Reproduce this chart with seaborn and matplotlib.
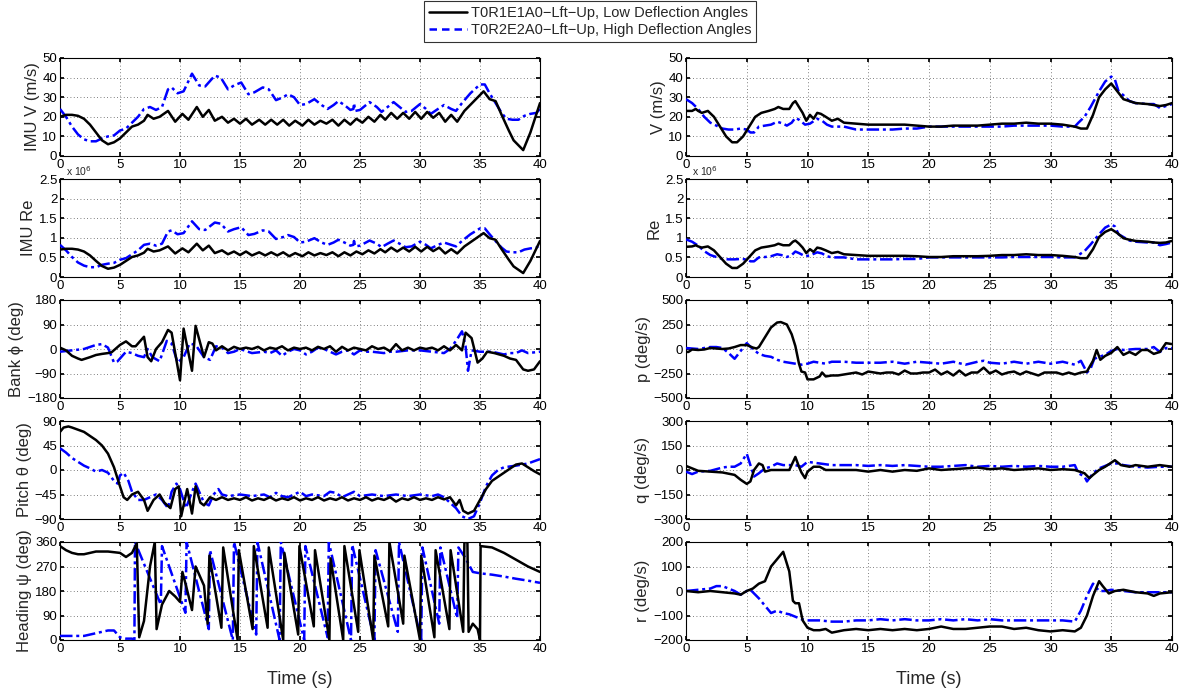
import numpy as np
import matplotlib
matplotlib.use("Agg")
import matplotlib.pyplot as plt
import seaborn as sns
from matplotlib.lines import Line2D
from matplotlib.ticker import FuncFormatter

sns.set_theme(style="white")
plt.rcParams['font.family'] = ['Liberation Sans', 'DejaVu Sans']

# ---------------- data ----------------
legend_labels = ["T0R1E1A0\u2212Lft\u2212Up, Low Deflection Angles",
                 "T0R2E2A0\u2212Lft\u2212Up, High Deflection Angles"]

# IMU V (m/s) and IMU Re
imuv_t_k = [0, 0.5, 1, 1.5, 2, 2.5, 3, 3.5, 4, 4.5, 5, 5.5, 6, 6.5, 7, 7.3, 7.8, 8.3, 9, 9.6, 10.2, 10.7, 11.4, 11.9,
            12.4, 12.9, 13.5, 14, 14.5, 15, 15.5, 16, 16.6, 17.1, 17.6, 18.1, 18.6, 19.1, 19.6, 20.2, 20.7, 21.2, 21.7,
            22.2, 22.7, 23.2, 23.7, 24.2, 24.7, 25.2, 25.7, 26.2, 26.7, 27.1, 27.6, 28.1, 28.6, 29.1, 29.6, 30.1, 30.6,
            31.1, 31.6, 32.1, 32.6, 33.1, 33.7, 34.5, 35.3, 35.8, 36.3, 36.8, 37.4, 37.8, 38.6, 39.2, 40]
imuv_k = [20, 21, 21, 20.5, 19, 16, 12, 8, 6, 7, 9, 12, 15, 16, 18, 21, 19, 20, 23, 17.5, 21.5, 18.5, 25, 20,
          23.5, 18, 20, 17, 19, 16.5, 19, 16, 18.5, 16, 18.5, 16, 18.5, 15.5, 18, 15.5, 18.5, 16, 18,
          16.5, 18.5, 15.5, 18.5, 16, 19, 17, 20, 17.5, 21, 18.5, 22, 19, 22, 19, 22.5, 19, 22.5,
          19.5, 22, 17.5, 21, 17.5, 23, 28, 33, 29, 28, 21, 13, 8, 3, 12, 27]
imure_k = [0.70, 0.72, 0.72, 0.70, 0.65, 0.55, 0.41, 0.28, 0.21, 0.24, 0.31, 0.41, 0.51, 0.55, 0.62, 0.72, 0.65,
           0.68, 0.78, 0.60, 0.73, 0.63, 0.85, 0.68, 0.80, 0.61, 0.68, 0.58, 0.65, 0.56, 0.65, 0.55, 0.63, 0.55,
           0.63, 0.55, 0.63, 0.53, 0.61, 0.53, 0.63, 0.55, 0.61, 0.56, 0.63, 0.53, 0.63, 0.55, 0.65, 0.58, 0.68,
           0.60, 0.71, 0.63, 0.75, 0.65, 0.75, 0.65, 0.77, 0.65, 0.77, 0.66, 0.75, 0.60, 0.71, 0.60, 0.78, 0.95,
           1.12, 0.99, 0.95, 0.71, 0.44, 0.27, 0.10, 0.41, 0.92]

imuv_t_b = [0, 0.5, 1, 1.5, 2, 2.5, 3, 3.5, 4, 4.5, 5, 5.5, 6, 6.5, 7, 7.5, 8, 8.5, 9, 9.3, 9.8, 10.3, 11, 11.6,
            12.1, 12.9, 13.4, 14, 14.5, 15.1, 15.7, 16.2, 16.9, 17.4, 18, 18.6, 19, 19.5, 20, 20.5, 21.2, 21.8,
            22.3, 22.8, 23.2, 23.7, 24.2, 24.45, 24.5, 24.6, 25, 25.8, 26.4, 26.8, 27.3, 27.8, 28.3, 28.8, 29.3,
            30, 30.5, 30.9, 31.5, 32, 32.6, 33, 33.5, 34.2, 35, 35.4, 35.8, 36.4, 36.8, 37.2, 37.7, 38.2, 38.7,
            39.2, 39.7, 40]
imuv_b = [24, 20, 15, 11, 8.5, 7.5, 7.5, 9, 10, 10.5, 13, 14, 17, 20, 24, 25, 23.5, 25, 34, 35, 32, 33, 42, 36,
          35.5, 41, 40, 34, 36, 37.5, 31.5, 32.5, 35, 34, 28.5, 30, 31.5, 30, 26, 26.5, 29, 26,
          24, 26, 28, 26, 23.5, 24, 27, 23, 23.5, 27.5, 25, 22.5, 25, 27.5, 25, 22.5, 23,
          26.5, 24, 21.5, 24, 26, 24, 23, 27, 32, 36.5, 36.5, 32, 26, 22, 19, 18.5, 18.5, 20.5,
          21.5, 22, 24]
imure_b = [0.82, 0.68, 0.51, 0.37, 0.29, 0.25, 0.25, 0.31, 0.34, 0.36, 0.44, 0.48, 0.58, 0.68, 0.82, 0.85, 0.80,
           0.85, 1.16, 1.19, 1.09, 1.12, 1.42, 1.22, 1.20, 1.39, 1.36, 1.16, 1.22, 1.27, 1.07, 1.10, 1.19, 1.16,
           0.97, 1.02, 1.07, 1.02, 0.88, 0.90, 0.99, 0.88, 0.82, 0.88, 0.95, 0.88, 0.80, 0.82, 0.92, 0.78, 0.80,
           0.93, 0.85, 0.76, 0.85, 0.93, 0.85, 0.76, 0.78, 0.90, 0.82, 0.73, 0.82, 0.88, 0.82, 0.78, 0.92, 1.09,
           1.24, 1.24, 1.09, 0.88, 0.75, 0.65, 0.63, 0.63, 0.70, 0.73, 0.75, 0.82]

# Bank phi (deg)
bank_t_k = [0, 0.5, 1, 1.5, 1.8, 2.5, 3, 3.5, 4, 4.3, 5, 5.5, 6, 6.3, 7, 7.3, 7.6, 8, 8.5, 9, 9.3, 10, 10.3, 11,
            11.3, 12, 12.4, 12.7, 13, 13.5, 14, 14.5, 15, 15.5, 16, 16.5, 17, 17.5, 18, 18.5, 19, 19.5, 20, 20.5,
            21, 21.5, 22, 22.5, 23, 23.5, 24, 24.5, 25, 25.5, 26, 26.5, 27, 27.5, 28, 28.5, 29, 29.5, 30, 30.5,
            31, 31.5, 32, 32.5, 33, 33.5, 33.8, 34.3, 34.8, 35.2, 35.6, 36.2, 37, 37.5, 38, 38.6, 39, 39.5, 40]
bank_k = [5, -5, -25, -35, -40, -30, -22, -18, -15, -12, 15, 28, 10, 10, 45, -30, -45, 0, 25, 70, 60, -115, 75,
          -80, 85, -30, 25, 20, -5, 10, -5, 8, 0, 5, 0, 8, -5, 5, 0, 10, -5, 5, 0, 5,
          -5, 8, 0, 10, -10, 8, -5, 5, 0, -5, 10, 0, 5, -8, 18, -5, 5, -5, 5, 0,
          5, -5, 10, -5, 15, -5, 60, 40, -50, -35, -10, -15, -25, -35, -40, -75, -80, -75, -45]
bank_t_b = [0, 1, 2, 3, 3.5, 4, 4.5, 4.8, 5.5, 6, 6.5, 7, 7.3, 7.7, 8.3, 8.9, 9.3, 9.8, 10.3, 10.8, 11.3, 12,
            12.5, 13, 13.5, 14, 14.5, 15, 16, 17, 17.5, 18, 18.5, 19, 19.5, 20, 20.5, 21, 21.5, 22, 22.5, 23,
            23.5, 24, 24.5, 25, 25.5, 26, 27, 27.5, 28, 29, 30, 31, 32, 32.5, 33, 33.5, 33.8, 34, 34.3, 35, 36,
            37, 37.5, 38, 38.5, 39, 40]
bank_b = [-10, -5, 0, 15, 18, 5, -50, -45, -10, -15, -25, -30, 0, -30, -45, 30, 20, -50, -30, 20, 15, -30,
          -40, 10, 5, -15, -10, 0, -15, -10, -15, -5, -25, -10, 0, -5, -20, -10, 5, 0, -10, -20,
          -10, -5, -20, -5, -10, -10, -15, -10, -10, -5, -5, -10, -15, 0, 30, 65, 10, -80, -5, -10, -10,
          -20, -15, -15, -5, -15, -10]

# Pitch theta (deg)
pitch_t_k = [0, 0.3, 0.7, 1, 2, 3, 3.5, 4, 4.5, 5, 5.3, 5.6, 6, 6.5, 7, 7.3, 7.8, 8.3, 8.7, 9.2, 9.6, 9.9, 10.1,
             10.6, 11, 11.3, 11.7, 12, 12.5, 13, 13.5, 14, 14.5, 15, 15.5, 16, 16.5, 17, 17.5, 18, 18.5, 19, 19.5,
             20, 20.5, 21, 21.5, 22, 22.5, 23, 23.5, 24, 24.5, 25, 25.5, 26, 26.5, 27, 27.5, 28, 28.5, 29, 29.5,
             30, 30.5, 31, 31.5, 32, 32.5, 33, 33.3, 33.6, 34, 34.5, 35, 35.5, 36, 37, 38, 38.5, 39, 39.5, 40]
pitch_k = [70, 78, 80, 78, 70, 55, 45, 30, 5, -30, -50, -55, -45, -40, -55, -75, -55, -45, -60, -70, -35, -30,
           -85, -35, -80, -30, -60, -65, -50, -55, -50, -55, -52, -55, -50, -56, -52, -55, -50, -56, -52, -55,
           -50, -56, -52, -55, -50, -56, -52, -55, -50, -56, -52, -55, -50, -56, -52, -55, -50, -58, -52, -55,
           -50, -55, -52, -55, -50, -54, -50, -65, -55, -75, -80, -75, -55, -35, -20, -5, 10, 12, 5, -2, -8]
pitch_t_b = [0, 0.5, 1, 1.5, 2, 2.5, 3, 3.5, 4, 4.5, 4.8, 5, 5.3, 5.7, 6, 6.5, 7, 7.5, 8, 8.5, 9, 9.3, 9.7, 10,
             10.5, 11, 11.3, 11.7, 12, 12.4, 12.8, 13.2, 13.5, 14, 15, 16, 17, 17.5, 18, 18.5, 19, 19.5, 20,
             20.5, 21, 22, 22.5, 23, 23.5, 24, 24.5, 25, 26, 27, 28, 29, 30, 31, 31.5, 32, 32.5, 33, 33.5, 34,
             34.5, 35, 35.5, 36, 36.5, 37, 38, 39, 40]
pitch_b = [40, 32, 22, 15, 8, 3, -3, 0, -5, -20, -25, -10, -5, -20, -40, -55, -55, -50, -45, -55, -70, -40, -25,
           -35, -70, -40, -25, -45, -60, -65, -45, -35, -45, -48, -45, -48, -45, -50, -42, -48, -50, -45, -40,
           -48, -45, -48, -40, -42, -50, -45, -40, -48, -45, -48, -45, -48, -45, -48, -45, -50, -60, -70, -85,
           -90, -85, -60, -30, -10, 0, 5, 8, 12, 20]

# Heading psi (deg)
head_t_k = [0, 0.5, 1, 1.5, 2, 3, 4, 5, 5.5, 6, 6.4, 6.6, 7, 7.5, 7.9, 8.05, 8.5, 9.1, 9.6, 10, 10.2, 10.5, 11,
            11.3, 12, 12.3, 12.45, 13.45, 13.6, 14.8, 14.9, 16.05, 16.15, 17.3, 17.4, 18.6, 18.7, 19.85, 19.95,
            21.15, 21.25, 22.45, 22.55, 23.6, 23.7, 24.85, 24.95, 26.1, 26.2, 27.35, 27.45, 28.6, 28.7, 30.0,
            30.1, 31.2, 31.3, 32.45, 32.55, 33.6, 33.7, 33.95, 34.05, 34.4, 34.8, 35.0, 35.05, 36, 37, 38, 39, 40]
head_k = [345, 330, 320, 315, 315, 325, 325, 320, 305, 320, 355, 10, 70, 270, 360, 40, 130, 180, 160, 140, 250,
          200, 110, 270, 200, 60, 310, 45, 340, 0, 330, 40, 345, 45, 340, 0, 320, 20, 345, 50, 330, 0, 300, 0,
          345, 30, 330, 0, 310, 50, 360, 60, 310, 0, 310, 10, 330, 40, 330, 30, 360, 360, 30, 60, 40, 0, 345,
          340, 320, 295, 270, 250]
head_t_b = [0, 1, 2, 3, 3.5, 4, 4.5, 5, 5.5, 6, 6.2, 6.25, 8.4, 8.5, 10.45, 10.55, 12.4, 12.5, 14.4, 14.5, 16.35,
            16.45, 18.3, 18.4, 20.35, 20.45, 22.3, 22.4, 24.25, 24.35, 26.2, 26.3, 28.15, 28.25, 30.1, 30.2, 31.6,
            31.7, 33.1, 33.2, 33.8, 34.4, 35, 36, 37, 38, 39, 40]
head_b = [15, 15, 15, 25, 30, 35, 35, 10, 5, 5, 0, 360, 130, 345, 100, 360, 40, 330, 0, 360, 20, 360, 0, 360, 0,
          345, 10, 360, 0, 350, 0, 330, 30, 360, 0, 340, 60, 340, 80, 340, 300, 250, 245, 240, 233, 225, 218, 210]

# V (m/s) and Re (right column)
v_t_k = [0, 0.5, 0.8, 1, 1.3, 1.8, 2.3, 2.8, 3.3, 3.8, 4.2, 4.7, 5.2, 5.7, 6.2, 6.8, 7.3, 7.6, 8, 8.5, 8.8, 9, 9.3,
         9.6, 9.9, 10.2, 10.5, 10.8, 11.1, 11.5, 12, 12.5, 13, 14, 15, 16, 17, 18, 19, 20, 21, 22, 23, 24, 25, 26,
         27, 28, 29, 30, 31, 32, 32.5, 33, 33.5, 34, 34.5, 35, 35.5, 36, 36.5, 37, 38, 38.5, 39, 39.5, 40]
v_k = [23, 23, 24, 23, 22, 23, 20, 15, 10, 7, 7, 10, 15, 20, 22, 23, 24, 25, 24, 24, 27, 28, 25, 22, 18, 21, 19,
       22, 21.5, 20, 18, 19, 17, 16.5, 16, 16, 16, 16, 15.5, 15, 15, 15.5, 15.5, 15.5, 16, 16.5, 16.5, 17, 16.5,
       16.5, 16, 15, 14, 14, 21, 30, 34, 37, 33, 29, 28, 27, 26.5, 26, 25.5, 26, 27]
re_k = [0.77, 0.78, 0.81, 0.78, 0.75, 0.78, 0.68, 0.51, 0.34, 0.23, 0.23, 0.34, 0.51, 0.68, 0.75, 0.78, 0.81,
        0.85, 0.81, 0.81, 0.90, 0.93, 0.85, 0.75, 0.61, 0.71, 0.64, 0.75, 0.73, 0.68, 0.61, 0.64, 0.58, 0.56,
        0.54, 0.54, 0.54, 0.54, 0.53, 0.51, 0.51, 0.53, 0.53, 0.53, 0.54, 0.56, 0.56, 0.58, 0.56, 0.56, 0.54,
        0.51, 0.48, 0.48, 0.71, 1.02, 1.15, 1.22, 1.12, 0.99, 0.95, 0.92, 0.90, 0.88, 0.87, 0.88, 0.92]
v_t_b = [0, 0.5, 1, 1.5, 2, 2.5, 3, 3.5, 4, 4.5, 5, 5.3, 5.6, 6, 6.5, 7, 7.5, 8, 8.3, 8.7, 9, 9.3, 9.8, 10.2, 10.8,
         11.2, 11.6, 12, 12.5, 13, 14, 15, 16, 17, 18, 19, 20, 21, 22, 23, 24, 25, 26, 27, 28, 29, 30, 31, 32,
         32.3, 32.8, 33.3, 34, 34.5, 35, 35.3, 35.6, 36, 36.5, 37, 38, 38.5, 39, 39.5, 40]
v_b = [29, 27, 24, 20, 17, 15.5, 14, 13.5, 13.5, 14, 13.5, 12, 12, 15, 15.5, 16, 17.5, 16.5, 15.5, 17, 19.5, 18.5,
       16, 16.5, 19, 18, 16, 15, 15, 15, 13.5, 13.5, 13.5, 13.5, 14, 14, 15, 15, 15, 15, 15, 15, 15, 15.5, 15.5,
       15.5, 15.5, 15, 15, 17, 20, 25, 33, 38, 40.5, 39, 33, 31, 28, 27, 26.5, 26.5, 24.5, 25.5, 26.5]
re_b = [0.96, 0.90, 0.80, 0.66, 0.56, 0.51, 0.46, 0.45, 0.45, 0.46, 0.45, 0.40, 0.40, 0.50, 0.51, 0.53, 0.58,
        0.55, 0.51, 0.56, 0.65, 0.61, 0.53, 0.55, 0.63, 0.60, 0.53, 0.50, 0.50, 0.50, 0.45, 0.45, 0.45, 0.45,
        0.46, 0.46, 0.50, 0.50, 0.50, 0.50, 0.50, 0.50, 0.50, 0.51, 0.51, 0.51, 0.51, 0.50, 0.50, 0.56, 0.66,
        0.83, 1.09, 1.26, 1.34, 1.29, 1.09, 1.02, 0.93, 0.90, 0.88, 0.88, 0.81, 0.84, 0.88]

# p (deg/s)
p_t_k = [0, 0.2, 0.5, 1, 1.5, 2, 2.5, 3, 3.5, 4, 4.5, 5, 5.5, 5.8, 6, 6.5, 7, 7.5, 7.8, 8.3, 8.7, 9, 9.3, 9.5, 9.8,
         10, 10.5, 11, 11.2, 11.5, 12, 12.5, 13, 14, 14.5, 15, 15.5, 16, 16.5, 17, 17.5, 18, 18.5, 19, 19.5, 20,
         20.5, 21, 21.5, 22, 22.5, 23, 23.5, 24, 24.5, 25, 25.5, 26, 26.5, 27, 27.5, 28, 28.5, 29, 29.5, 30, 30.5,
         31, 31.5, 32, 32.5, 33, 33.5, 33.8, 34.1, 34.5, 35, 35.5, 36, 36.5, 37, 37.5, 38, 38.5, 39, 39.5, 40]
p_k = [-30, -30, -5, -10, -5, 10, 5, 0, 5, 20, 40, 40, 15, 5, 20, 120, 220, 270, 275, 250, 150, 30, -150, -230,
       -240, -310, -310, -280, -240, -280, -270, -270, -260, -240, -260, -230, -240, -250, -240, -240, -260, -220,
       -250, -250, -240, -240, -210, -260, -230, -270, -220, -270, -240, -240, -190, -250, -220, -260, -240, -230,
       -260, -230, -250, -270, -240, -240, -240, -260, -240, -260, -240, -230, -120, -10, -110, -70, -40, 20, -60,
       -30, -60, -10, -10, -50, -30, 60, 50]
p_t_b = [0, 1, 2, 2.5, 3, 3.5, 4, 4.5, 5, 5.5, 6, 6.5, 7, 7.5, 8, 8.5, 9, 9.5, 10, 10.5, 11, 11.5, 12, 13, 14, 15,
         16, 17, 18, 19, 20, 21, 22, 23, 24, 24.5, 25, 26, 27, 28, 29, 30, 31, 32, 32.5, 33, 33.3, 33.6, 34, 34.5,
         35, 35.5, 36, 37, 38, 38.5, 39, 39.5, 40]
p_b = [10, 0, 20, 20, 10, -40, -100, -20, 60, 0, -50, -70, -80, -110, -130, -140, -150, -160, -150, -130, -140,
       -150, -130, -130, -140, -140, -140, -130, -150, -130, -140, -150, -130, -160, -130, -120, -140, -150, -130,
       -150, -130, -150, -130, -160, -120, -240, -200, -100, -80, -60, -20, 0, -10, 0, 0, 20, -30, 10, 10]

# q (deg/s)
q_t_k = [0, 0.5, 1, 2, 3, 4, 4.5, 5, 5.3, 5.6, 6, 6.3, 6.5, 7, 8, 8.5, 9, 9.3, 9.5, 9.8, 10, 10.5, 11, 11.5, 12,
         13, 14, 15, 16, 17, 18, 19, 20, 21, 22, 23, 24, 25, 26, 27, 28, 29, 30, 31, 32, 32.8, 33.2, 33.5, 34,
         34.5, 35, 35.3, 35.8, 36.5, 37, 38, 39, 40]
q_k = [25, 10, -5, -10, -15, -30, -60, -85, -70, 0, 40, 30, -10, 0, 0, 0, 80, 20, -15, -50, -10, 20, 20, 0, 0,
       0, 0, -10, 0, -10, 0, -5, 10, 0, 5, 10, 15, 5, 10, 0, 5, 10, 0, 5, 0, -20, -50, -30, 0, 20, 45, 60, 30,
       20, 30, 20, 30, 20]
q_t_b = [0, 0.5, 1, 2, 3, 3.5, 4, 4.5, 5, 5.3, 5.6, 6, 6.5, 7, 7.5, 8, 9, 9.5, 10, 11, 12, 13, 14, 15, 16, 17, 18,
         19, 20, 21, 22, 23, 24, 25, 26, 27, 28, 29, 30, 31, 32, 32.3, 32.8, 33, 33.5, 34, 35, 35.5, 36, 37, 38,
         39, 40]
q_b = [-10, -25, -10, -5, 15, 20, 20, 40, 100, 30, -40, -20, 10, 20, 40, 30, 30, 20, 50, 40, 30, 30, 30, 25, 30,
       25, 30, 25, 20, 20, 25, 30, 20, 25, 20, 25, 20, 25, 20, 20, 30, -20, -40, -70, -20, 10, 40, 40, 30, 20,
       15, 20, 20]

# r (deg/s)
r_t_k = [0, 1, 2, 3, 4, 4.5, 5, 5.5, 6, 6.5, 7, 7.5, 8, 8.5, 8.8, 9, 9.3, 9.6, 10, 10.5, 11, 11.5, 12, 12.5, 13,
         14, 15, 16, 17, 18, 19, 20, 21, 22, 23, 24, 25, 26, 27, 28, 29, 30, 31, 32, 32.5, 33, 33.5, 34, 34.3,
         34.8, 35.3, 36, 37, 38, 38.5, 39, 40]
r_k = [0, -5, 0, -5, -10, -15, 0, 10, 30, 40, 100, 130, 160, 80, -40, -50, -50, -120, -150, -160, -160, -155,
       -170, -165, -160, -155, -160, -155, -160, -155, -160, -155, -145, -155, -155, -150, -145, -145, -155, -150,
       -160, -165, -160, -165, -150, -100, -20, 40, 20, -10, 0, 5, -5, -10, -20, -10, -5]
r_t_b = [0, 1, 2, 2.5, 3, 3.5, 4, 4.5, 5, 5.3, 6, 6.5, 7, 7.5, 8, 8.5, 9, 9.5, 10, 11, 12, 13, 14, 15, 16, 17, 18,
         19, 20, 21, 22, 23, 24, 25, 26, 27, 28, 29, 30, 31, 32, 32.5, 33, 33.5, 34, 34.5, 35, 36, 37, 38, 39, 40]
r_b = [0, 5, 10, 20, 20, 10, 0, -15, 0, 5, -30, -60, -90, -80, -90, -95, -105, -115, -120, -120, -125, -125, -120,
       -120, -115, -120, -115, -120, -120, -115, -120, -115, -120, -115, -120, -120, -120, -120, -120, -120, -125,
       -80, -20, 30, 0, 0, 5, 0, -5, -5, -5, -5]

panels = [
    # (col, row, ylabel, ylim, yticks, tk, yk, tb, yb, sci)
    (0, 0, "IMU V (m/s)", (0, 50), [0, 10, 20, 30, 40, 50], imuv_t_k, imuv_k, imuv_t_b, imuv_b, False),
    (0, 1, "IMU Re", (0, 2.5e6), [0, 0.5e6, 1e6, 1.5e6, 2e6, 2.5e6], imuv_t_k, np.array(imure_k) * 1e6,
     imuv_t_b, np.array(imure_b) * 1e6, True),
    (0, 2, "Bank \u03d5 (deg)", (-180, 180), [-180, -90, 0, 90, 180], bank_t_k, bank_k, bank_t_b, bank_b, False),
    (0, 3, "Pitch \u03b8 (deg)", (-90, 90), [-90, -45, 0, 45, 90], pitch_t_k, pitch_k, pitch_t_b, pitch_b, False),
    (0, 4, "Heading \u03c8 (deg)", (0, 360), [0, 90, 180, 270, 360], head_t_k, head_k, head_t_b, head_b, False),
    (1, 0, "V (m/s)", (0, 50), [0, 10, 20, 30, 40, 50], v_t_k, v_k, v_t_b, v_b, False),
    (1, 1, "Re", (0, 2.5e6), [0, 0.5e6, 1e6, 1.5e6, 2e6, 2.5e6], v_t_k, np.array(re_k) * 1e6,
     v_t_b, np.array(re_b) * 1e6, True),
    (1, 2, "p (deg/s)", (-500, 500), [-500, -250, 0, 250, 500], p_t_k, p_k, p_t_b, p_b, False),
    (1, 3, "q (deg/s)", (-300, 300), [-300, -150, 0, 150, 300], q_t_k, q_k, q_t_b, q_b, False),
    (1, 4, "r (deg/s)", (-200, 200), [-200, -100, 0, 100, 200], r_t_k, r_k, r_t_b, r_b, False),
]

W, H = 1180, 698
fig = plt.figure(figsize=(W / 100, H / 100), dpi=100)
fig.patch.set_facecolor("white")

col_x = [60, 686]
col_w = [480, 486]
row_top = [58, 179, 300, 421, 542]
ax_h = 98

blue = (0, 0, 1)
for col, row, ylabel, ylim, yticks, tk, yk, tb, yb, sci in panels:
    ax = fig.add_axes([col_x[col] / W, 1 - (row_top[row] + ax_h) / H, col_w[col] / W, ax_h / H])
    sns.lineplot(x=np.array(tb, float), y=np.array(yb, float), ax=ax, color=blue, lw=1.8,
                 linestyle=(0, (5, 1.5, 1.2, 1.5)), estimator=None, sort=False, zorder=3)
    sns.lineplot(x=np.array(tk, float), y=np.array(yk, float), ax=ax, color="black", lw=1.8,
                 estimator=None, sort=False, zorder=4)
    ax.set_xlim(0, 40)
    ax.set_ylim(*ylim)
    ax.set_xticks([0, 5, 10, 15, 20, 25, 30, 35, 40])
    ax.set_yticks(yticks)
    if sci:
        ax.yaxis.set_major_formatter(FuncFormatter(lambda v, p: f"{v / 1e6:g}"))
        ax.text(0.012, 1.01, "x 10$^{6}$", transform=ax.transAxes, fontsize=7.5, ha="left", va="bottom")
    ax.grid(True, linestyle=(0, (1, 3)), color="#555555", linewidth=0.6)
    ax.tick_params(direction="in", length=3, labelsize=9.5, colors="black", pad=2,
                   top=True, right=True, bottom=True, left=True)
    for s in ax.spines.values():
        s.set_color("black")
        s.set_linewidth(0.8)
    ax.set_ylabel(ylabel, fontsize=12, labelpad=2)
    if row == 4:
        ax.set_xlabel("Time (s)", fontsize=13, labelpad=12)
    else:
        ax.set_xlabel("")
    ax.set_facecolor("white")

handles = [Line2D([], [], color="black", lw=1.8),
           Line2D([], [], color=blue, lw=1.8, linestyle=(0, (3, 2)))]
leg = fig.legend(handles, legend_labels, loc="upper center", bbox_to_anchor=(0.5, 1.0),
                 fontsize=10.5, frameon=True, fancybox=False, edgecolor="black", handlelength=2.6,
                 borderpad=0.3, labelspacing=0.25, handletextpad=0.3, borderaxespad=0.1)
leg.get_frame().set_linewidth(0.8)

fig.savefig("out.png", dpi=100, facecolor="white")
